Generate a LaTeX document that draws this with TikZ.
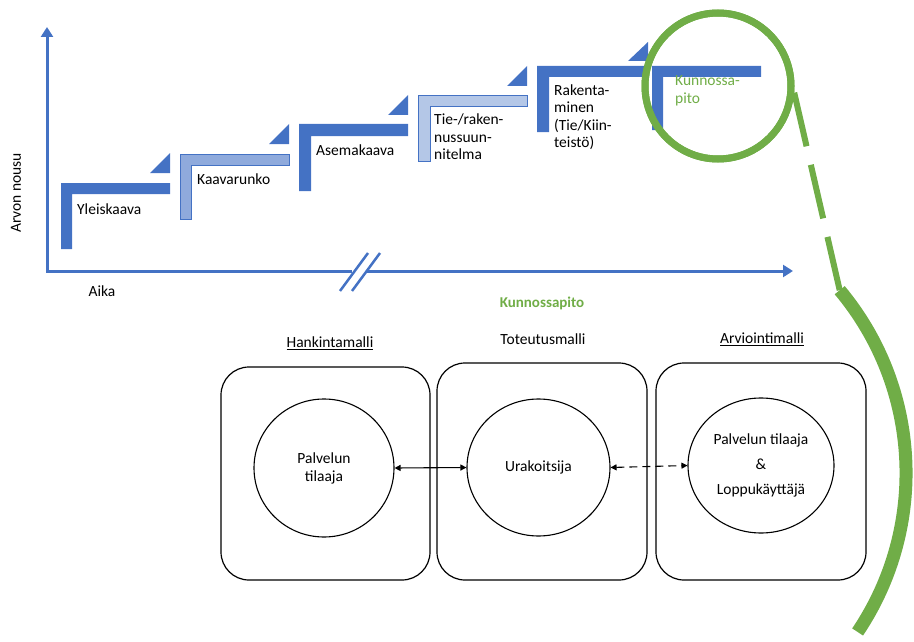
\documentclass[tikz,border=0pt]{standalone}
\usepackage{fontspec}
\setmainfont{Carlito}
\usetikzlibrary{arrows.meta,shapes.geometric}
\definecolor{axisblue}{HTML}{4472C4}
\definecolor{midblue}{HTML}{8FAADC}
\definecolor{paleblue}{HTML}{B4C7E7}
\definecolor{leafgreen}{HTML}{70AD47}
\begin{document}
\begin{tikzpicture}[x=1pt,y=-1pt,
  axisline/.style={draw=axisblue, line width=3pt},
  axistip/.style={-{Triangle[length=10pt,width=12pt]}},
  breakmark/.style={draw=axisblue, line width=2.5pt},
  stepdark/.style={fill=axisblue},
  stepmid/.style={fill=midblue, draw=axisblue, line width=1pt},
  steppale/.style={fill=paleblue, draw=axisblue, line width=1pt},
  flag/.style={fill=axisblue},
  steplabel/.style={anchor=west, inner sep=0pt, align=left,
    font=\fontsize{15.5}{17.5}\selectfont},
  plainlabel/.style={inner sep=0pt, font=\fontsize{15.5}{18}\selectfont},
  modelbox/.style={draw, line width=1.2pt, rounded corners=28pt, inner sep=0pt},
  actor/.style={draw, ellipse, line width=1.1pt, inner sep=0pt, align=center,
    font=\fontsize{15.5}{18}\selectfont},
  link/.style={line width=1.1pt, {Triangle[length=6pt,width=6pt]}-{Triangle[length=6pt,width=6pt]}},
  lens/.style={draw=leafgreen, line width=7pt, circle, inner sep=0pt},
]
\useasboundingbox (0,0) rectangle (914,642);

% axes
\coordinate (ytip) at (47,27);
\coordinate (origin) at (47,271);
\coordinate (brkL) at (352,271);
\coordinate (brkR) at (367,271);
\coordinate (xtip) at (793,271);
\draw[axisline, {Triangle[length=10pt,width=12pt]}-] (ytip) -- (origin) -- (brkL);
\draw[axisline, axistip] (brkR) -- (xtip);
\draw[breakmark] (340,291) -- (368,253);
\draw[breakmark] (352,291) -- (380,253);
\node[plainlabel, rotate=90] (yname) at (16,193) {Arvon nousu};
\node[plainlabel] (xname) at (102,291) {Aika};

% planning steps
\fill[stepdark] (61,249) -- (61,183) -- (170,183) -- (170,194) -- (72,194) -- (72,249) -- cycle;
\fill[flag] (150,173) -- (170,173) -- (170,153) -- cycle;
\path[stepmid] (180,219) -- (180,154) -- (289,154) -- (289,165) -- (191,165) -- (191,219) -- cycle;
\fill[flag] (269,144) -- (289,144) -- (289,124) -- cycle;
\fill[stepdark] (299,191) -- (299,124) -- (408,124) -- (408,136) -- (311,136) -- (311,191) -- cycle;
\fill[flag] (388,115) -- (408,115) -- (408,95) -- cycle;
\path[steppale] (418,161) -- (418,96) -- (527,96) -- (527,107) -- (430,107) -- (430,161) -- cycle;
\fill[flag] (507,86) -- (527,86) -- (527,66) -- cycle;
\fill[stepdark] (537,132) -- (537,66) -- (649,66) -- (649,77) -- (549,77) -- (549,132) -- cycle;
\fill[flag] (628,61) -- (648,61) -- (648,42) -- cycle;
\fill[stepdark] (652,130) -- (652,66) -- (761,66) -- (761,77) -- (663,77) -- (663,130) -- cycle;

\node[steplabel] (s1) at (77,209) {Yleiskaava};
\node[steplabel] (s2) at (197,179) {Kaavarunko};
\node[steplabel] (s3) at (316,150) {Asemakaava};
\node[steplabel] (s4) at (434,137) {Tie-/raken-\\nussuun-\\nitelma};
\node[steplabel] (s5) at (554,117) {Rakenta-\\minen\\(Tie/Kiin-\\teistö)};
\node[steplabel, text=leafgreen] (s6) at (675,91) {Kunnossa-\\pito};

% magnified maintenance phase
\coordinate (arctop) at (839.7,290.2);
\node[lens, minimum size=146pt] (zoomring) at (718,86) {};
\draw[leafgreen, line width=6pt, dash pattern=on 55pt off 19pt] (zoomring.-5) -- (arctop);
\node[lens, minimum size=146pt] at (718,86) {};
\draw[leafgreen, line width=13pt] (arctop) arc[start angle=-39.9, end angle=33.9, radius=285];

\node[plainlabel, text=leafgreen, font=\fontsize{15}{18}\selectfont\bfseries] (maint) at (542,303) {Kunnossapito};

% models
\node[plainlabel] (h1) at (330,343) {\underline{Hankintamalli}};
\node[plainlabel] (h2) at (543,339) {Toteutusmalli};
\node[plainlabel] (h3) at (762,339) {\underline{Arviointimalli}};

\node[modelbox, minimum width=209pt, minimum height=213pt] (b1) at (325.5,473.5) {};
\node[modelbox, minimum width=210pt, minimum height=217pt] (b2) at (542,471.5) {};
\node[modelbox, minimum width=210pt, minimum height=217pt] (b3) at (761,471.5) {};

\node[actor, minimum width=140pt, minimum height=138pt] (c1) at (324,468) {Palvelun\\tilaaja};
\node[actor, minimum width=143pt, minimum height=137pt] (c2) at (538.5,467.5) {Urakoitsija};
\node[actor, minimum width=146pt, minimum height=135pt,
  font=\fontsize{15.5}{25}\selectfont] (c3) at (761,465.5) {Palvelun tilaaja\\\&\\Loppukäyttäjä};

\draw[link] (c1.east) -- (c2.west);
\draw[link, dash pattern=on 8pt off 5pt] (c2.east) -- (c3.west);
\end{tikzpicture}
\end{document}
